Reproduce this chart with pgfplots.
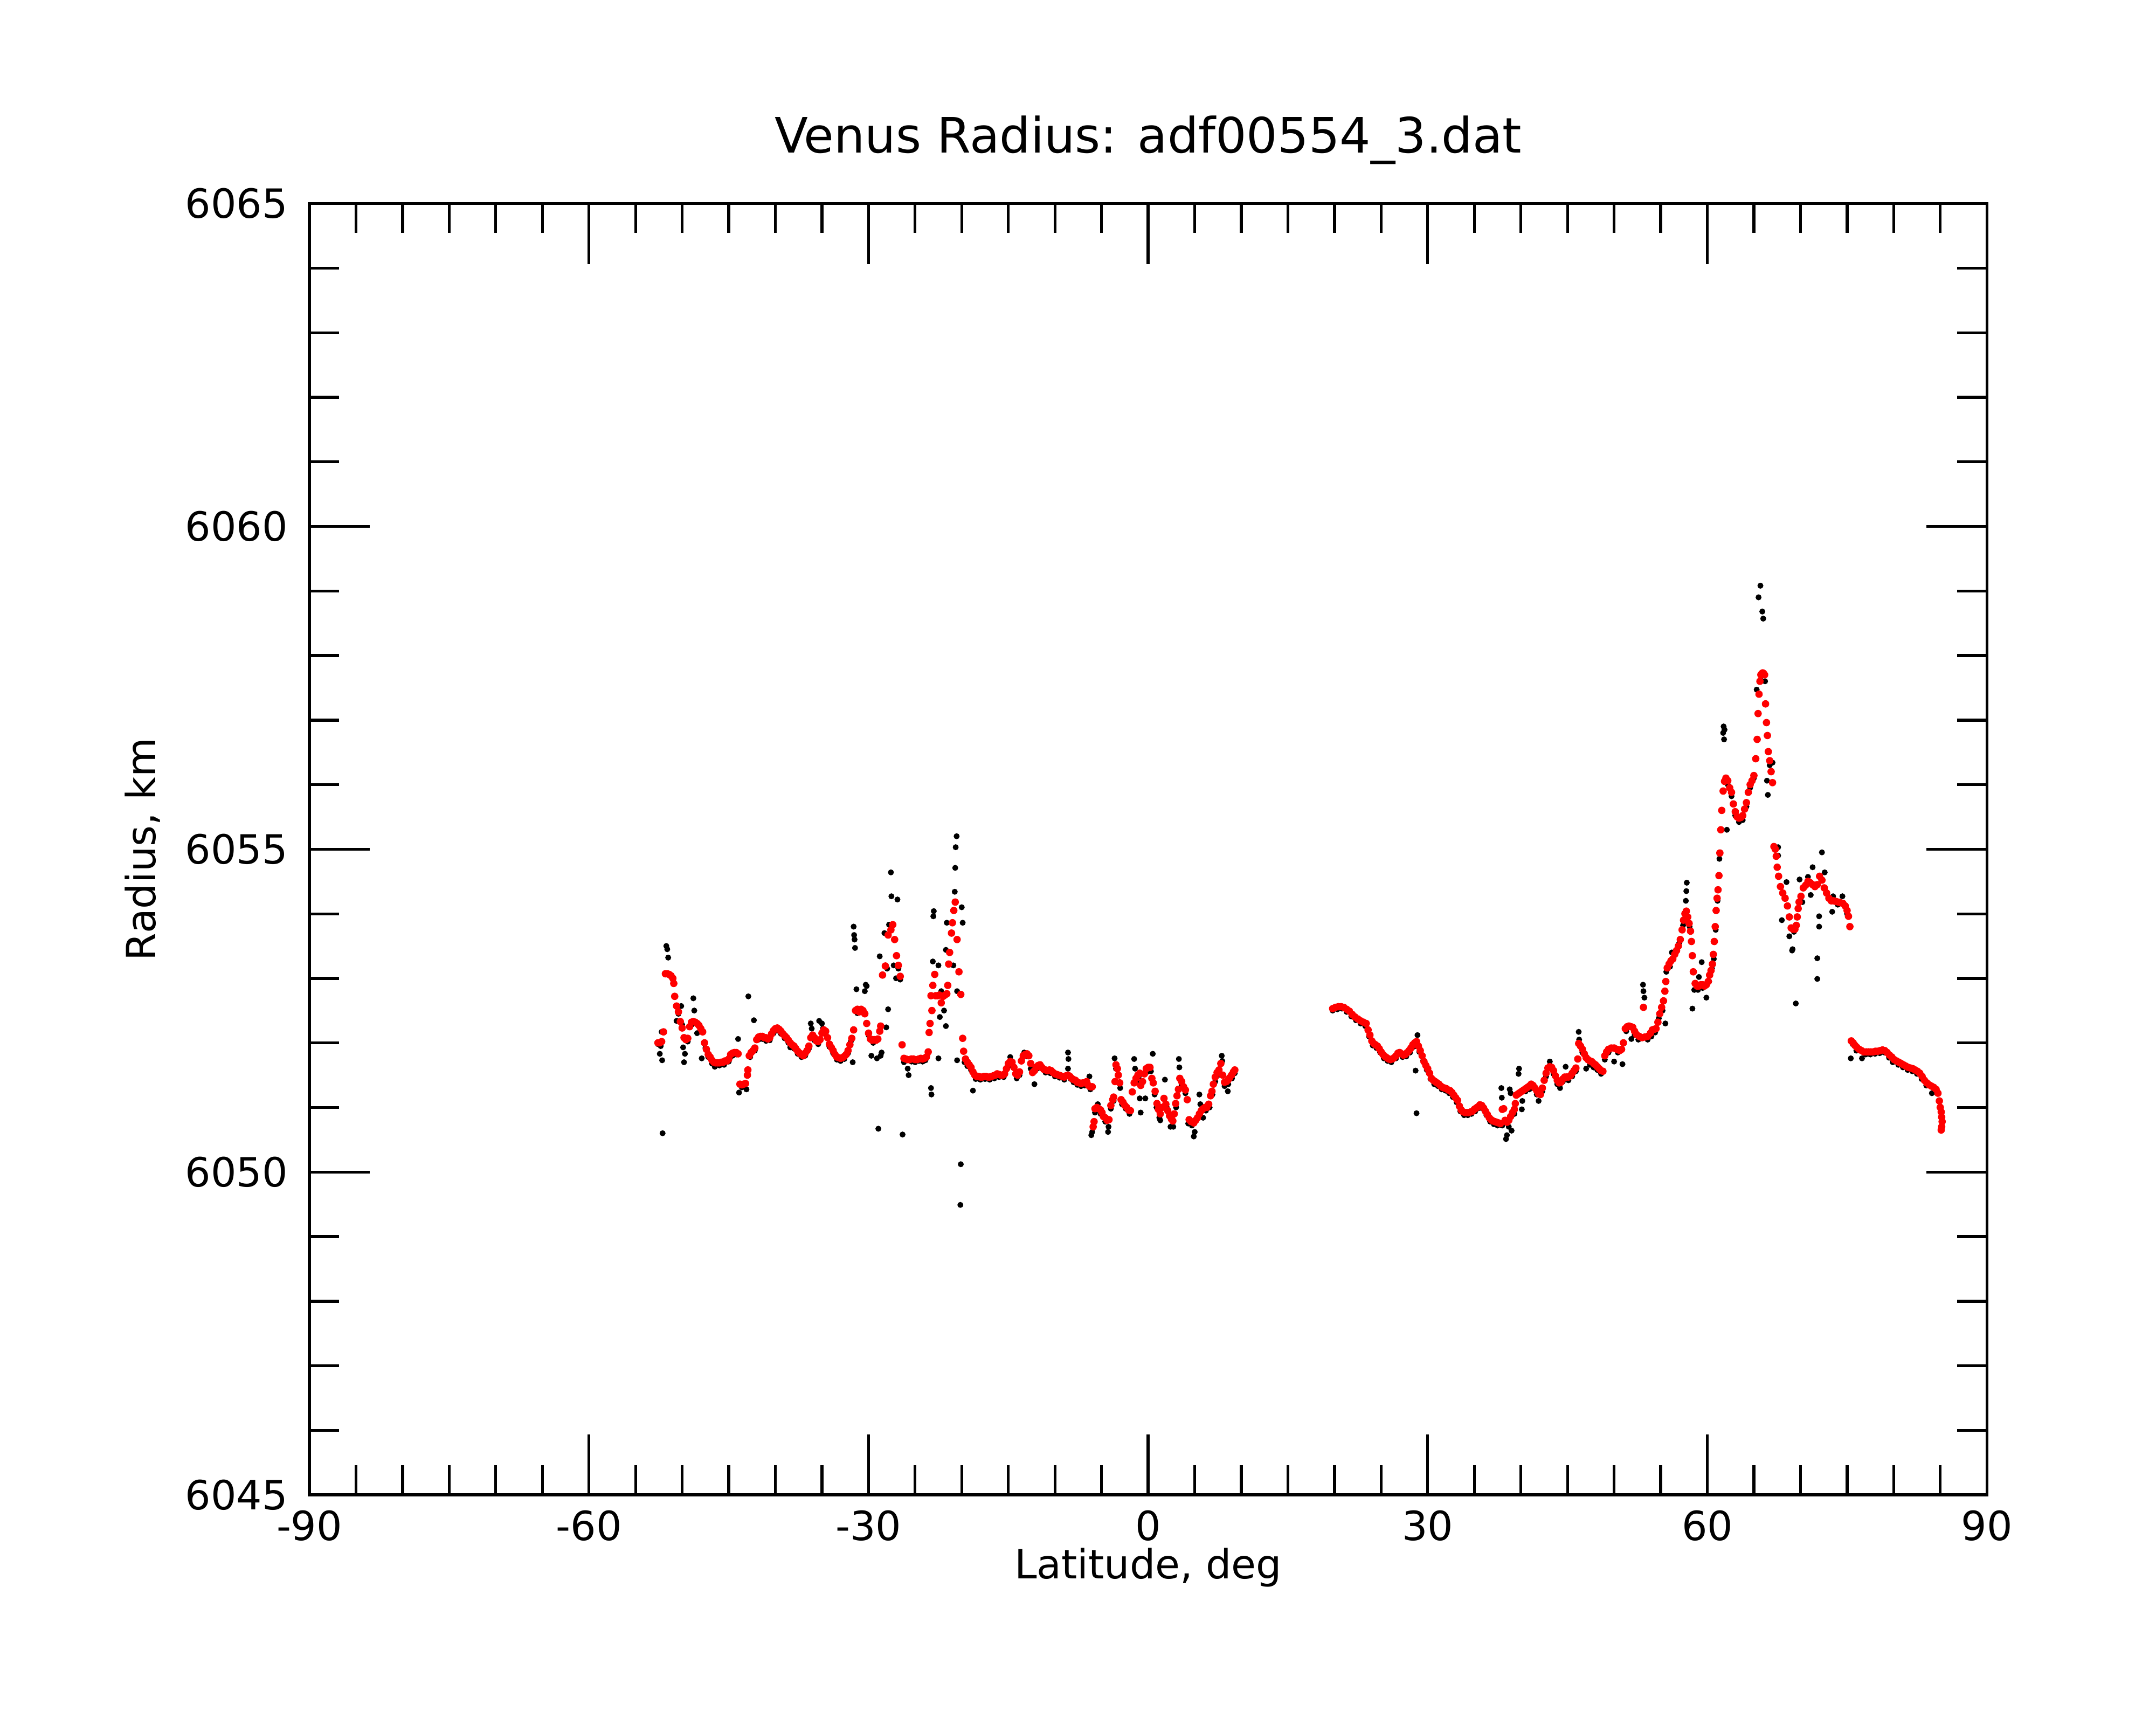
\documentclass[border=0pt]{standalone}
\usepackage{fontspec}
\setmainfont{DejaVu Sans}
\usepackage{pgfplots}
\usepackage{pgfplotstable}
\pgfplotsset{compat=1.18}

\pgfplotstableread{
lat r
-52.6 6052.00
-52.4 6052.00
-52.2 6052.02
-52.0 6052.17
-51.8 6053.07
-51.6 6053.07
-51.4 6053.06
-51.2 6053.04
-51.0 6053.00
-50.9 6052.92
-50.8 6052.72
-50.6 6052.57
-50.4 6052.48
-50.2 6052.33
-50.0 6052.23
-49.8 6052.08
-49.6 6052.05
-49.4 6052.07
-49.2 6052.25
-49.0 6052.32
-48.8 6052.33
-48.6 6052.32
-48.4 6052.30
-48.2 6052.27
-48.0 6052.22
-47.8 6052.17
-47.6 6052.00
-47.4 6051.90
-47.2 6051.82
-47.0 6051.78
-46.8 6051.73
-46.6 6051.70
-46.4 6051.69
-46.2 6051.69
-46.0 6051.69
-45.8 6051.70
-45.6 6051.70
-45.4 6051.72
-45.2 6051.72
-45.0 6051.75
-44.8 6051.82
-44.6 6051.84
-44.4 6051.85
-44.2 6051.85
-44.0 6051.83
-43.8 6051.36
-43.6 6051.35
-43.4 6051.36
-43.2 6051.37
-43.0 6051.50
-42.95 6051.58
-42.8 6051.80
-42.6 6051.85
-42.4 6051.88
-42.2 6051.92
-42.0 6052.05
-41.8 6052.09
-41.6 6052.10
-41.4 6052.10
-41.2 6052.08
-41.0 6052.08
-40.8 6052.06
-40.6 6052.08
-40.4 6052.14
-40.2 6052.19
-40.0 6052.22
-39.8 6052.23
-39.6 6052.21
-39.4 6052.18
-39.2 6052.14
-39.0 6052.11
-38.8 6052.08
-38.6 6052.04
-38.4 6052.00
-38.2 6051.97
-38.0 6051.95
-37.8 6051.91
-37.6 6051.87
-37.4 6051.84
-37.2 6051.82
-37.0 6051.80
-36.8 6051.84
-36.6 6051.88
-36.4 6051.95
-36.2 6052.08
-36.0 6052.12
-35.8 6052.08
-35.6 6052.03
-35.4 6052.02
-35.2 6052.05
-35.0 6052.15
-34.8 6052.20
-34.6 6052.18
-34.4 6052.08
-34.2 6051.98
-34.0 6051.93
-33.8 6051.88
-33.6 6051.82
-33.4 6051.78
-33.2 6051.77
-33.0 6051.76
-32.8 6051.77
-32.6 6051.79
-32.4 6051.82
-32.2 6051.88
-32.0 6051.97
-31.8 6052.07
-31.6 6052.20
-31.4 6052.50
-31.2 6052.52
-31.0 6052.48
-30.8 6052.52
-30.6 6052.50
-30.4 6052.45
-30.2 6052.30
-30.0 6052.15
-29.8 6052.06
-29.6 6052.04
-29.4 6052.05
-29.2 6052.04
-29.0 6052.06
-28.8 6052.18
-28.7 6052.26
-28.5 6053.05
-28.2 6053.19
-27.9 6053.67
-27.6 6053.75
-27.4 6053.83
-27.2 6053.60
-27.0 6053.35
-26.8 6053.20
-26.6 6053.03
-26.4 6051.97
-26.2 6051.76
-26.0 6051.75
-25.8 6051.74
-25.6 6051.74
-25.4 6051.75
-25.2 6051.75
-25.0 6051.74
-24.8 6051.74
-24.6 6051.75
-24.4 6051.76
-24.2 6051.75
-24.0 6051.76
-23.8 6051.78
-23.6 6051.86
-23.5 6052.16
-23.4 6052.30
-23.3 6052.73
-23.2 6052.50
-23.1 6052.89
-22.9 6053.06
-22.8 6052.73
-22.6 6052.73
-22.4 6052.74
-22.2 6052.62
-22.0 6052.72
-21.8 6052.74
-21.6 6052.76
-21.5 6052.89
-21.4 6053.22
-21.3 6053.40
-21.1 6053.70
-21.0 6053.86
-20.85 6054.05
-20.7 6054.18
-20.5 6053.60
-20.3 6053.10
-20.1 6052.75
-19.9 6052.07
-19.8 6051.87
-19.6 6051.75
-19.4 6051.70
-19.2 6051.66
-19.0 6051.62
-18.8 6051.55
-18.6 6051.50
-18.4 6051.48
-18.2 6051.48
-18.0 6051.47
-17.8 6051.47
-17.6 6051.48
-17.4 6051.48
-17.2 6051.47
-17.0 6051.47
-16.8 6051.48
-16.6 6051.49
-16.4 6051.50
-16.2 6051.52
-16.0 6051.51
-15.8 6051.50
-15.6 6051.50
-15.4 6051.52
-15.2 6051.60
-15.0 6051.68
-14.8 6051.71
-14.6 6051.70
-14.4 6051.62
-14.2 6051.52
-14.0 6051.50
-13.8 6051.55
-13.6 6051.72
-13.4 6051.80
-13.2 6051.82
-13.0 6051.83
-12.8 6051.80
-12.6 6051.68
-12.4 6051.54
-12.2 6051.57
-12.0 6051.62
-11.8 6051.65
-11.6 6051.66
-11.4 6051.62
-11.2 6051.59
-11.0 6051.58
-10.8 6051.57
-10.6 6051.58
-10.4 6051.57
-10.2 6051.54
-10.0 6051.52
-9.8 6051.51
-9.6 6051.50
-9.4 6051.49
-9.2 6051.48
-9.0 6051.47
-8.8 6051.49
-8.6 6051.50
-8.4 6051.48
-8.2 6051.45
-8.0 6051.43
-7.8 6051.42
-7.6 6051.39
-7.4 6051.38
-7.2 6051.37
-7.0 6051.38
-6.8 6051.38
-6.6 6051.40
-6.4 6051.34
-6.2 6051.32
-6.0 6051.32
-5.9 6050.70
-5.8 6050.78
-5.7 6050.98
-5.5 6051.00
-5.3 6050.98
-5.1 6050.96
-4.95 6050.92
-4.8 6050.86
-4.6 6050.84
-4.4 6050.80
-4.2 6050.81
-4.0 6051.03
-3.8 6051.12
-3.7 6051.16
-3.55 6051.40
-3.45 6051.66
-3.3 6051.60
-3.2 6051.50
-3.05 6051.38
-2.9 6051.12
-2.7 6051.08
-2.5 6051.03
-2.3 6051.00
-2.1 6050.96
-1.9 6050.95
-1.7 6051.24
-1.5 6051.38
-1.3 6051.45
-1.1 6051.50
-0.9 6051.53
-0.8 6051.34
-0.6 6051.40
-0.4 6051.52
-0.2 6051.60
0.0 6051.62
0.2 6051.62
0.4 6051.45
0.55 6051.38
0.75 6051.25
0.95 6051.06
1.1 6050.97
1.3 6050.90
1.5 6051.00
1.7 6051.14
1.9 6051.05
2.1 6050.95
2.3 6050.87
2.5 6050.82
2.65 6050.79
2.8 6050.90
2.95 6051.06
3.1 6051.18
3.25 6051.28
3.4 6051.45
3.6 6051.40
3.8 6051.32
4.0 6051.27
4.2 6051.12
4.4 6050.81
4.6 6050.78
4.9 6050.76
5.1 6050.80
5.3 6050.84
5.5 6050.90
5.7 6050.95
5.9 6050.98
6.1 6051.00
6.3 6051.00
6.5 6051.05
6.7 6051.18
6.85 6051.25
7.0 6051.36
7.2 6051.47
7.4 6051.54
7.6 6051.58
7.8 6051.68
8.0 6051.50
8.2 6051.39
8.4 6051.40
8.55 6051.42
8.75 6051.46
8.95 6051.50
9.15 6051.55
9.3 6051.58
}\smoothA

\pgfplotstableread{
lat r
19.8 6052.53
20.1 6052.55
20.4 6052.56
20.7 6052.56
21.0 6052.55
21.3 6052.52
21.6 6052.49
21.9 6052.44
22.2 6052.40
22.5 6052.37
22.8 6052.34
23.1 6052.32
23.4 6052.30
23.6 6052.20
23.8 6052.12
24.0 6052.03
24.2 6051.99
24.4 6051.97
24.6 6051.95
24.8 6051.91
25.0 6051.86
25.2 6051.82
25.4 6051.79
25.6 6051.77
25.8 6051.75
26.0 6051.74
26.2 6051.75
26.4 6051.77
26.6 6051.80
26.8 6051.84
27.0 6051.85
27.2 6051.83
27.4 6051.81
27.6 6051.82
27.8 6051.85
28.0 6051.88
28.2 6051.92
28.4 6051.97
28.6 6052.00
28.8 6052.02
29.0 6051.95
29.2 6051.88
29.4 6051.80
29.6 6051.71
29.8 6051.65
30.0 6051.60
30.2 6051.53
30.4 6051.45
30.6 6051.42
30.8 6051.40
31.0 6051.38
31.2 6051.36
31.4 6051.33
31.6 6051.31
31.8 6051.30
32.0 6051.29
32.2 6051.27
32.4 6051.26
32.6 6051.23
32.8 6051.19
33.0 6051.15
33.2 6051.11
33.4 6051.02
33.6 6050.96
33.8 6050.93
34.0 6050.92
34.2 6050.92
34.4 6050.92
34.6 6050.93
34.8 6050.94
35.0 6050.97
35.2 6050.99
35.4 6051.01
35.6 6051.04
35.8 6051.03
36.0 6050.99
36.2 6050.94
36.4 6050.89
36.6 6050.84
36.8 6050.81
37.0 6050.79
37.2 6050.78
37.4 6050.77
37.6 6050.76
37.8 6050.75
38.0 6050.97
38.15 6050.98
38.3 6050.80
38.5 6050.77
38.7 6050.80
38.9 6050.86
39.1 6050.92
39.3 6050.97
39.4 6051.06
39.5 6051.19
39.7 6051.21
39.9 6051.23
40.1 6051.25
40.3 6051.27
40.5 6051.29
40.7 6051.31
40.9 6051.33
41.1 6051.36
41.3 6051.34
41.5 6051.30
41.7 6051.26
41.9 6051.21
42.1 6051.20
42.3 6051.30
42.5 6051.42
42.7 6051.53
42.9 6051.61
43.1 6051.63
43.3 6051.62
43.5 6051.57
43.7 6051.49
43.9 6051.42
44.1 6051.38
44.3 6051.39
44.5 6051.44
44.7 6051.47
44.9 6051.47
45.1 6051.47
45.3 6051.49
45.5 6051.53
45.7 6051.57
45.9 6051.61
46.1 6051.75
46.2 6051.99
46.4 6051.95
46.6 6051.90
46.8 6051.83
47.0 6051.77
47.2 6051.74
47.4 6051.72
47.6 6051.71
47.8 6051.68
48.0 6051.66
48.2 6051.63
48.4 6051.60
48.6 6051.57
48.8 6051.56
49.0 6051.80
49.2 6051.86
49.4 6051.90
49.7 6051.92
50.0 6051.92
50.3 6051.90
50.6 6051.88
50.8 6051.90
51.0 6052.00
51.2 6052.22
51.4 6052.25
51.6 6052.26
51.8 6052.25
52.0 6052.24
52.2 6052.18
52.4 6052.13
52.7 6052.10
53.0 6052.08
53.15 6052.55
53.3 6052.09
53.6 6052.10
53.9 6052.15
54.1 6052.20
54.3 6052.21
54.5 6052.22
54.7 6052.32
54.9 6052.45
55.1 6052.55
55.3 6052.65
55.45 6052.80
55.55 6052.95
55.7 6053.16
55.9 6053.22
56.1 6053.27
56.3 6053.30
56.5 6053.37
56.7 6053.43
56.9 6053.50
57.1 6053.60
57.3 6053.75
57.45 6053.90
57.6 6054.00
57.75 6054.04
57.9 6053.95
58.05 6053.85
58.2 6053.73
58.3 6053.57
58.4 6053.35
58.5 6053.10
58.7 6052.92
58.9 6052.88
59.1 6052.88
59.3 6052.90
59.5 6052.90
59.7 6052.88
59.9 6052.90
60.1 6052.95
60.25 6053.05
60.4 6053.12
60.55 6053.22
60.65 6053.37
60.75 6053.57
60.85 6053.80
60.95 6054.05
61.05 6054.24
61.15 6054.37
61.25 6054.59
61.35 6054.94
61.45 6055.30
61.55 6055.60
61.7 6055.90
61.85 6056.05
62.0 6056.10
62.2 6056.06
62.4 6055.95
62.6 6055.88
62.8 6055.70
63.0 6055.58
63.2 6055.50
63.4 6055.48
63.6 6055.49
63.8 6055.52
64.0 6055.62
64.2 6055.72
64.4 6055.88
64.6 6056.00
64.8 6056.06
65.0 6056.14
65.2 6056.40
65.35 6056.70
65.45 6057.10
65.55 6057.40
65.65 6057.60
65.75 6057.70
65.85 6057.72
65.95 6057.73
66.05 6057.72
66.15 6057.70
66.25 6057.25
66.35 6056.96
66.45 6056.76
66.55 6056.51
66.7 6056.37
66.85 6056.20
67.0 6056.03
67.15 6055.04
67.3 6055.00
67.4 6054.89
67.5 6054.72
67.65 6054.58
67.85 6054.42
68.1 6054.32
68.35 6054.24
68.6 6054.12
68.8 6053.95
69.0 6053.78
69.2 6053.76
69.4 6053.76
69.55 6053.82
69.65 6053.95
69.75 6054.08
69.85 6054.18
70.05 6054.27
70.3 6054.40
70.55 6054.44
70.8 6054.50
71.05 6054.48
71.3 6054.45
71.55 6054.42
71.8 6054.45
72.05 6054.58
72.3 6054.52
72.55 6054.40
72.8 6054.32
73.05 6054.24
73.3 6054.20
73.55 6054.20
73.8 6054.19
74.05 6054.18
74.3 6054.17
74.55 6054.16
74.8 6054.12
75.0 6054.05
75.15 6053.96
75.3 6053.80
75.45 6052.03
75.65 6052.00
75.85 6051.96
76.05 6051.93
76.3 6051.90
76.55 6051.88
76.8 6051.86
77.05 6051.86
77.3 6051.86
77.55 6051.86
77.8 6051.86
78.05 6051.87
78.3 6051.87
78.55 6051.88
78.8 6051.89
79.05 6051.88
79.3 6051.85
79.55 6051.81
79.8 6051.78
80.05 6051.74
80.3 6051.72
80.55 6051.70
80.8 6051.68
81.05 6051.66
81.3 6051.64
81.55 6051.62
81.8 6051.61
82.05 6051.60
82.3 6051.58
82.55 6051.56
82.8 6051.53
83.05 6051.48
83.3 6051.42
83.55 6051.38
83.8 6051.35
84.05 6051.33
84.3 6051.31
84.55 6051.28
84.75 6051.22
84.9 6051.10
85.0 6051.00
85.1 6050.93
85.15 6050.85
85.2 6050.78
85.15 6050.70
85.1 6050.65
}\smoothB

\pgfplotstableread{
lat r
-52.6 6051.98
-52.4 6051.83
-52.3 6051.95
-52.2 6052.17
-52.15 6051.73
-52.1 6050.60
-51.7 6053.50
-51.6 6053.45
-51.5 6053.32
-51.3 6053.05
-51.0 6052.98
-50.6 6052.34
-50.4 6052.45
-50.1 6052.57
-50.0 6052.28
-49.9 6051.93
-49.8 6051.70
-49.7 6051.83
-49.4 6052.02
-49.0 6052.28
-48.8 6052.69
-48.7 6052.50
-48.4 6052.15
-48.3 6052.30
-48.0 6052.18
-47.9 6051.76
-47.5 6051.92
-47.2 6051.78
-46.8 6051.68
-46.5 6051.63
-46.0 6051.65
-45.5 6051.66
-45.0 6051.71
-44.6 6051.80
-44.2 6051.82
-44.0 6052.06
-43.9 6051.23
-43.6 6051.31
-43.1 6051.28
-42.9 6052.72
-42.7 6051.78
-42.3 6052.35
-42.2 6051.88
-41.8 6052.05
-41.4 6052.06
-41.0 6052.03
-40.6 6052.04
-40.2 6052.15
-39.8 6052.19
-39.4 6052.14
-39.0 6052.07
-38.6 6052.00
-38.4 6051.93
-38.0 6051.91
-37.6 6051.83
-37.2 6051.78
-36.8 6051.80
-36.4 6051.91
-36.2 6052.30
-36.1 6052.22
-35.8 6052.04
-35.4 6051.98
-35.3 6052.34
-35.0 6052.30
-34.9 6052.22
-34.6 6052.14
-34.2 6051.94
-33.8 6051.84
-33.4 6051.74
-33.0 6051.72
-32.6 6051.75
-32.2 6051.84
-31.9 6052.02
-31.7 6051.70
-31.6 6053.80
-31.55 6053.67
-31.5 6053.60
-31.45 6053.47
-31.3 6052.83
-31.2 6052.46
-30.8 6052.48
-30.4 6052.80
-30.3 6052.90
-30.2 6052.88
-30.0 6052.12
-29.7 6051.80
-29.5 6052.00
-29.1 6051.76
-28.95 6050.67
-28.8 6053.34
-28.7 6051.80
-28.6 6051.85
-28.3 6053.70
-28.1 6052.24
-28.0 6053.15
-27.9 6052.52
-27.8 6053.83
-27.6 6054.64
-27.55 6054.27
-27.3 6053.20
-27.05 6053.00
-26.9 6054.22
-26.8 6053.15
-26.6 6052.98
-26.35 6050.58
-26.2 6051.70
-25.8 6051.60
-25.7 6051.50
-25.4 6051.71
-25.0 6051.70
-24.6 6051.72
-24.2 6051.71
-23.9 6051.73
-23.7 6051.80
-23.3 6051.30
-23.25 6051.20
-23.0 6054.04
-23.05 6053.96
-23.1 6053.26
-22.5 6053.20
-22.5 6051.76
-22.2 6052.80
-21.9 6052.50
-22.35 6052.40
-21.7 6052.26
-21.6 6053.86
-21.7 6053.44
-20.9 6053.20
-20.55 6055.20
-20.65 6055.03
-20.7 6054.71
-20.75 6054.34
-20.0 6054.10
-19.9 6053.86
-20.5 6052.80
-20.5 6051.73
-20.1 6050.12
-20.15 6049.49
-19.7 6051.70
-19.4 6051.64
-19.0 6051.58
-18.8 6051.26
-18.5 6051.44
-18.0 6051.43
-17.5 6051.44
-17.0 6051.43
-16.5 6051.45
-16.0 6051.47
-15.5 6051.47
-15.0 6051.64
-14.8 6051.78
-14.5 6051.64
-14.1 6051.45
-13.8 6051.50
-13.5 6051.76
-13.3 6051.85
-13.0 6051.79
-12.6 6051.60
-12.2 6051.36
-11.9 6051.60
-11.5 6051.62
-11.0 6051.54
-10.5 6051.53
-10.0 6051.48
-9.5 6051.46
-9.0 6051.43
-8.6 6051.85
-8.6 6051.60
-8.55 6051.75
-8.3 6051.44
-8.0 6051.39
-7.6 6051.35
-7.2 6051.33
-6.8 6051.34
-6.3 6051.48
-6.2 6051.28
-6.1 6050.57
-6.0 6050.62
-5.7 6050.92
-5.4 6051.05
-5.1 6050.90
-4.6 6050.78
-4.3 6050.62
-4.25 6050.70
-4.0 6050.98
-3.7 6051.10
-3.6 6051.76
-3.45 6051.60
-3.0 6051.30
-2.8 6051.05
-2.4 6050.98
-2.0 6050.90
-1.5 6051.75
-1.4 6051.60
-1.2 6051.40
-1.0 6051.48
-0.9 6051.14
-0.8 6050.92
-0.3 6051.14
-0.1 6051.55
0.3 6051.56
0.5 6051.83
0.7 6051.20
0.9 6051.00
1.2 6050.84
1.3 6050.80
1.8 6051.43
2.0 6051.00
2.4 6050.70
2.7 6050.70
3.0 6051.00
3.3 6051.75
3.35 6051.62
3.6 6051.35
4.0 6051.22
4.3 6050.75
4.7 6050.72
4.9 6050.55
5.0 6050.62
5.5 6051.20
5.6 6051.05
5.9 6050.84
6.2 6050.95
6.6 6051.00
6.9 6051.20
7.2 6051.40
7.5 6051.50
7.9 6051.80
7.95 6051.72
8.2 6051.33
8.55 6051.25
8.6 6051.36
9.0 6051.45
9.3 6051.53
19.8 6052.50
20.3 6052.52
20.8 6052.53
21.3 6052.48
21.8 6052.41
22.3 6052.35
22.8 6052.30
23.3 6052.26
23.7 6052.10
24.1 6051.96
24.5 6051.92
24.9 6051.85
25.3 6051.76
25.7 6051.72
26.1 6051.70
26.6 6051.76
26.9 6051.86
27.3 6051.78
27.7 6051.79
28.1 6051.85
28.5 6051.94
28.7 6051.57
28.8 6050.91
28.9 6052.12
29.1 6051.86
29.5 6051.72
29.9 6051.58
30.3 6051.44
30.7 6051.36
31.1 6051.33
31.5 6051.28
31.9 6051.26
32.3 6051.22
32.7 6051.16
33.1 6051.08
33.5 6050.94
33.9 6050.88
34.3 6050.88
34.7 6050.90
35.1 6050.94
35.5 6050.99
35.9 6050.98
36.3 6050.88
36.7 6050.78
37.1 6050.74
37.5 6050.72
37.9 6051.30
37.95 6051.15
38.0 6050.72
38.4 6050.51
38.5 6050.57
38.7 6050.70
38.8 6051.28
38.9 6051.22
39.0 6050.64
39.3 6050.90
39.8 6051.60
39.75 6051.52
40.1 6050.97
40.15 6051.10
40.5 6051.25
40.9 6051.28
41.3 6051.30
41.7 6051.20
41.9 6051.10
42.3 6051.25
42.7 6051.48
43.1 6051.71
43.5 6051.52
43.9 6051.36
44.2 6051.30
44.5 6051.40
44.8 6051.63
45.1 6051.42
45.5 6051.48
45.9 6051.56
46.2 6052.17
46.25 6052.05
46.6 6051.85
47.0 6051.60
47.4 6051.66
47.8 6051.62
48.2 6051.58
48.6 6051.52
49.0 6051.74
49.4 6051.85
50.0 6051.71
50.4 6051.85
50.9 6051.67
51.3 6052.18
51.85 6052.06
52.2 6052.12
52.6 6052.05
53.1 6052.90
53.15 6052.80
53.25 6052.70
53.6 6052.05
54.0 6052.10
54.4 6052.16
54.8 6052.38
55.2 6052.50
55.5 6052.30
55.6 6053.10
56.0 6053.18
56.2 6053.40
56.6 6053.38
57.0 6053.55
57.4 6053.82
57.7 6054.20
57.75 6054.35
57.8 6054.48
58.1 6053.80
58.4 6052.53
58.6 6052.82
59.0 6052.82
59.1 6053.02
59.4 6053.25
59.5 6052.85
59.9 6052.70
60.2 6052.95
60.5 6053.15
60.7 6053.30
60.9 6053.75
61.1 6054.20
61.3 6054.85
61.7 6056.80
61.75 6056.90
61.8 6056.70
61.85 6056.85
62.1 6055.30
62.2 6056.00
62.6 6055.82
63.0 6055.52
63.4 6055.42
63.8 6055.45
64.2 6055.66
64.6 6055.95
65.0 6056.10
65.3 6057.47
65.5 6058.90
65.7 6059.08
65.9 6058.68
66.0 6058.57
65.8 6057.68
66.2 6057.60
66.4 6056.06
66.5 6055.84
66.7 6056.30
67.0 6056.34
67.6 6055.03
67.6 6054.90
68.0 6053.90
68.5 6054.49
68.8 6053.65
69.1 6053.43
69.15 6053.45
69.5 6052.61
69.3 6053.72
69.9 6054.53
70.2 6054.18
70.8 6054.57
71.1 6054.29
71.3 6054.72
71.8 6053.31
71.8 6052.99
72.0 6053.96
72.0 6053.80
72.3 6054.95
72.6 6054.64
73.0 6054.25
73.4 6054.03
73.5 6054.27
74.0 6054.14
74.5 6054.27
75.0 6054.00
75.4 6051.76
75.6 6051.98
76.0 6051.88
76.6 6051.76
77.0 6051.82
77.5 6051.82
78.0 6051.83
78.5 6051.84
79.0 6051.85
79.5 6051.77
79.9 6051.70
80.5 6051.66
81.0 6051.62
81.5 6051.58
82.0 6051.56
82.5 6051.52
83.0 6051.44
83.5 6051.34
84.1 6051.22
84.6 6051.24
85.0 6051.00
85.2 6050.80
}\rawdata

\begin{document}
\begin{tikzpicture}
\useasboundingbox (-2.296cm,-1.708cm) rectangle (13.704cm,11.092cm);
\begin{axis}[
  scale only axis,
  width=12.449cm, height=9.582cm,
  xmin=-90, xmax=90, ymin=6045, ymax=6065,
  xtick distance=30, minor x tick num=5,
  ytick distance=5, minor y tick num=4,
  tick align=inside,
  xtick pos=both, ytick pos=both,
  major tick length=0.449cm, minor tick length=0.22cm,
  every tick/.style={black, line width=0.6pt},
  axis line style={black, line width=0.6pt},
  /pgf/number format/assume math mode=true,
  /pgf/number format/1000 sep={},
  ticklabel style={font=\fontsize{8.5}{10}\selectfont, inner sep=0pt},
  xticklabel style={anchor=base, yshift=-0.337cm},
  yticklabel style={anchor=east, xshift=-0.153cm},
  title={Venus Radius: adf00554\_3.dat},
  title style={at={(axis description cs:0.5,1.0394)}, anchor=base, yshift=-6pt, inner sep=0pt, font=\fontsize{10.3}{12}\selectfont},
  xlabel={Latitude, deg},
  xlabel style={at={(axis description cs:0.5,-0.0649)}, anchor=base, inner sep=0pt, font=\fontsize{8.5}{10}\selectfont},
  ylabel={Radius, km},
  ylabel style={at={(axis description cs:-0.0918,0.5)}, anchor=base, inner sep=0pt, font=\fontsize{8.5}{10}\selectfont},
]
\addplot[only marks, mark=*, mark size=0.52pt, black, mark options={line width=0.2pt}] table[x=lat,y=r] {\rawdata};
\addplot[only marks, mark=*, mark size=0.68pt, red, mark options={line width=0.2pt}] table[x=lat,y=r] {\smoothA};
\addplot[only marks, mark=*, mark size=0.68pt, red, mark options={line width=0.2pt}] table[x=lat,y=r] {\smoothB};
\end{axis}
\end{tikzpicture}
\end{document}
